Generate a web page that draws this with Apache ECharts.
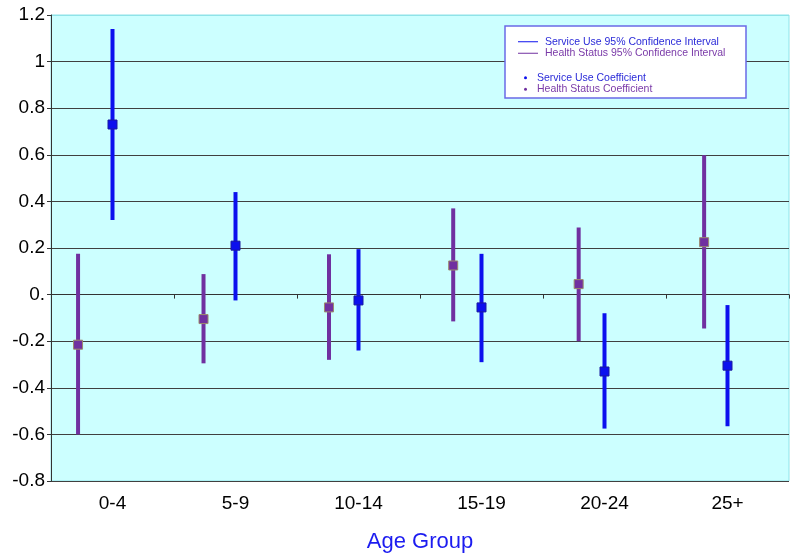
<!DOCTYPE html>
<html>
<head>
<meta charset="utf-8">
<script src="https://cdn.jsdelivr.net/npm/echarts@6/dist/echarts.min.js"></script>
<style>
  html, body { margin: 0; padding: 0; background: #fff; }
  #chart { width: 800px; height: 559px; }
</style>
</head>
<body>
<div id="chart"></div>
<script>
// age groups on the x axis
const ageGroups = ['0-4', '5-9', '10-14', '15-19', '20-24', '25+']

// x position of each mark inside the 0..6 band
const serviceX = [0.5, 1.5, 2.5, 3.5, 4.5, 5.5]
const healthX = [0.22, 1.24, 2.26, 3.27, 4.29, 5.31]

// Service Use: coefficient and 95% CI
const serviceCoef = [0.73, 0.21, -0.025, -0.055, -0.33, -0.305]
const serviceLow = [0.32, -0.025, -0.24, -0.29, -0.575, -0.565]
const serviceHigh = [1.14, 0.44, 0.195, 0.175, -0.08, -0.045]

// Health Status: coefficient and 95% CI
const healthCoef = [-0.215, -0.105, -0.055, 0.125, 0.045, 0.225]
const healthLow = [-0.6, -0.295, -0.28, -0.115, -0.2, -0.145]
const healthHigh = [0.175, 0.088, 0.173, 0.37, 0.288, 0.598]

const BLUE = '#0c10ee'
const PURPLE = '#7030a0'
const FONT = '"Liberation Sans", Arial, sans-serif'

const chart = echarts.init(document.getElementById('chart'))

const ciSeries = (name, xs, lows, highs, color) => ({
  name,
  type: 'custom',
  xAxisIndex: 1,
  z: 2,
  itemStyle: { color },
  encode: { x: 0, y: [1, 2] },
  data: xs.map((x, i) => [x, lows[i], highs[i]]),
  renderItem: (params, api) => {
    const p1 = api.coord([api.value(0), api.value(1)])
    const p2 = api.coord([api.value(0), api.value(2)])
    return {
      type: 'line',
      shape: { x1: p1[0], y1: p1[1], x2: p2[0], y2: p2[1] },
      style: { stroke: color, lineWidth: 4 }
    }
  }
})

const coefSeries = (name, xs, vals, color, border) => ({
  name,
  type: 'scatter',
  xAxisIndex: 1,
  z: 3,
  symbol: 'rect',
  symbolSize: 9,
  itemStyle: { color, borderColor: border, borderWidth: 1, opacity: 1 },
  data: xs.map((x, i) => [x, vals[i]])
})

// split lines: the top one (1.2) is the light plot border, not a dark line
const splitColors = Array(10).fill('#404040').concat(['#8fe3e8'])

const option = {
  animation: false,
  backgroundColor: '#fff',
  textStyle: { fontFamily: FONT },
  grid: {
    left: 51, right: 11, top: 15, bottom: 78,
    outerBoundsMode: 'none',
    containLabel: false,
    show: true,
    backgroundColor: '#ccffff',
    borderColor: '#8fe3e8',
    borderWidth: 1
  },
  graphic: [{
    type: 'rect',
    z: 3,
    shape: { x: 505, y: 26, width: 241, height: 72 },
    style: { fill: '#ffffff', stroke: '#6a6ae6', lineWidth: 1.5 }
  }],
  legend: [
    {
      z: 10,
      orient: 'vertical',
      left: 513,
      top: 31,
      itemWidth: 20,
      itemHeight: 1,
      itemGap: 0,
      textStyle: { fontSize: 10.5, lineHeight: 11.5, fontFamily: FONT, padding: [0, 0, 0, 2] },
      data: [
        { name: 'Service Use 95% Confidence Interval', icon: 'rect', textStyle: { color: '#2a2ad8' } },
        { name: 'Health Status 95% Confidence Interval', icon: 'rect', textStyle: { color: '#7a3aa8' } }
      ]
    },
    {
      z: 10,
      orient: 'vertical',
      left: 519,
      top: 67,
      itemWidth: 3,
      itemHeight: 3,
      itemGap: 0,
      itemStyle: { borderWidth: 0 },
      textStyle: { fontSize: 10.5, lineHeight: 11.5, fontFamily: FONT, padding: [0, 0, 0, 5] },
      data: [
        { name: 'Service Use Coefficient', icon: 'circle', textStyle: { color: '#2a2ad8' } },
        { name: 'Health Status Coefficient', icon: 'circle', textStyle: { color: '#7a3aa8' } }
      ]
    }
  ],
  xAxis: [
    {
      type: 'category',
      data: ageGroups,
      boundaryGap: true,
      name: 'Age Group',
      nameLocation: 'middle',
      nameGap: 50,
      nameTextStyle: { fontSize: 22, color: '#1c1cf0', fontFamily: FONT },
      axisLine: { lineStyle: { color: '#333', width: 1 } },
      axisTick: { show: true, length: 4, lineStyle: { color: '#333' } },
      axisLabel: { fontSize: 19, color: '#000', margin: 13, fontFamily: FONT },
      splitLine: { show: false }
    },
    {
      type: 'value',
      min: 0,
      max: 6,
      show: false
    }
  ],
  yAxis: {
    type: 'value',
    min: -0.8,
    max: 1.2,
    interval: 0.2,
    axisLine: { show: true, lineStyle: { color: '#333', width: 1 } },
    axisTick: { show: true, length: 4, lineStyle: { color: '#333' } },
    axisLabel: {
      fontSize: 19,
      color: '#000',
      margin: 6,
      fontFamily: FONT,
      formatter: (v) => {
        const r = Math.round(v * 10) / 10
        if (r === 0) return '0.'
        if (r === 1) return '1'
        return r.toFixed(1)
      }
    },
    splitLine: { show: true, lineStyle: { color: splitColors, width: 1 } }
  },
  series: [
    ciSeries('Health Status 95% Confidence Interval', healthX, healthLow, healthHigh, PURPLE),
    ciSeries('Service Use 95% Confidence Interval', serviceX, serviceLow, serviceHigh, BLUE),
    coefSeries('Health Status Coefficient', healthX, healthCoef, PURPLE, '#9c8a6c'),
    coefSeries('Service Use Coefficient', serviceX, serviceCoef, BLUE, '#1a1aa0')
  ]
}

chart.setOption(option)
</script>
</body>
</html>
